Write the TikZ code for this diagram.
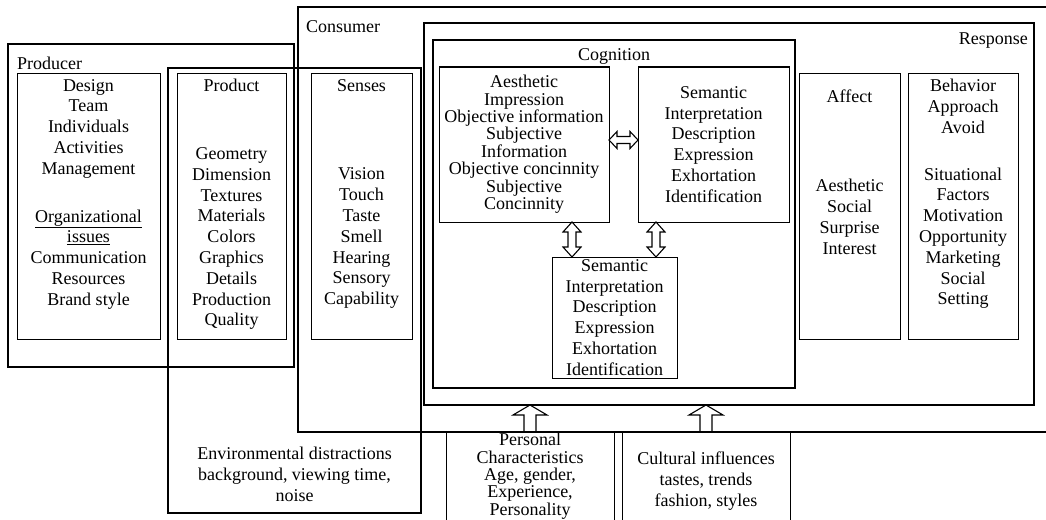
\documentclass[tikz,border=0pt]{standalone}
\usepackage{fontspec}
\setmainfont{Liberation Serif}
\usetikzlibrary{positioning,calc}

\begin{document}
\begin{tikzpicture}[x=1pt,y=-1pt,
  bigbox/.style={draw, line width=2pt, inner sep=0pt, outer sep=0pt},
  midbox/.style={draw, line width=1.3pt, inner sep=0pt, outer sep=0pt},
  box/.style={draw, line width=1pt, inner sep=0pt, outer sep=0pt},
  txt/.style={align=center, inner sep=0pt, font=\fontsize{18}{20.8}\selectfont},
  tighttxt/.style={txt, font=\fontsize{18}{17.4}\selectfont},
  arrowline/.style={line width=1.1pt, line join=miter},
  % outlined arrow, heads at both ends: head length, head half width, shaft half width
  hollow/.style n args={3}{to path={
    ($(\tikztostart)!#1!(\tikztotarget)$) coordinate (h1)
    ($(\tikztotarget)!#1!(\tikztostart)$) coordinate (h2)
    (\tikztostart) -- ($(h1)!#2!90:(\tikztotarget)$) -- ($(h1)!#3!90:(\tikztotarget)$)
    -- ($(h2)!#3!-90:(\tikztostart)$) -- ($(h2)!#2!-90:(\tikztostart)$) -- (\tikztotarget)
    -- ($(h2)!#2!90:(\tikztostart)$) -- ($(h2)!#3!90:(\tikztostart)$)
    -- ($(h1)!#3!-90:(\tikztotarget)$) -- ($(h1)!#2!-90:(\tikztotarget)$) -- cycle}},
  % outlined arrow, head at the target only
  hollowup/.style n args={3}{to path={
    ($(\tikztotarget)!#1!(\tikztostart)$) coordinate (h2)
    ($(\tikztostart)!#3!90:(\tikztotarget)$)
    -- ($(h2)!#3!-90:(\tikztostart)$) -- ($(h2)!#2!-90:(\tikztostart)$) -- (\tikztotarget)
    -- ($(h2)!#2!90:(\tikztostart)$) -- ($(h2)!#3!90:(\tikztostart)$)
    -- ($(\tikztostart)!#3!-90:(\tikztotarget)$)}}
]
\path[use as bounding box, clip] (0,0) rectangle (1046,519);

% outer frames
\node[bigbox, minimum width=286, minimum height=323] (producer) at (151,205.5) {};
\node[bigbox, minimum width=762, minimum height=425] (consumer) at (679,219.5) {};
\node[midbox, minimum width=253, minimum height=445] (environ) at (294.5,290.5) {};
\node[bigbox, minimum width=610, minimum height=382] (response) at (729,214) {};
\node[bigbox, minimum width=362, minimum height=348] (cognition) at (614,214) {};

\node[txt, anchor=north west] at ([xshift=9pt,yshift=-13pt]producer.north west) {Producer};
\node[txt, anchor=north west] at ([xshift=8pt,yshift=-13pt]consumer.north west) {Consumer};
\node[txt, anchor=north east] at ([xshift=-6pt,yshift=-10pt]response.north east) {Response};
\node[txt, below=8pt of cognition.north] {Cognition};

% producer side
\node[box, minimum width=143, minimum height=266] (design) at (88.5,206) {};
\node[box, minimum width=109, minimum height=266] (product) at (231.5,206) {};
\node[box, minimum width=101, minimum height=266] (senses) at (361.5,206) {};

\node[txt, below=6pt of design.north] {Design\\Team\\Individuals\\Activities\\Management\\[27pt]
  \underline{Organizational}\\\underline{issues}\\Communication\\Resources\\Brand style};
\node[txt, below=6pt of product.north] {Product\\[47pt]Geometry\\Dimension\\Textures\\Materials\\Colors\\
  Graphics\\Details\\Production\\Quality};
\node[txt, below=6pt of senses.north] {Senses\\[68pt]Vision\\Touch\\Taste\\Smell\\Hearing\\Sensory\\Capability};

\node[txt, anchor=north] (envtxt) at (294.5,447) {Environmental distractions\\background, viewing time,\\noise};

% cognition
\node[box, minimum width=170, minimum height=155] (aesthetic) at (524,144.5) {};
\node[box, minimum width=151, minimum height=155] (semright) at (713.5,144.5) {};
\node[box, minimum width=125, minimum height=121] (sembottom) at (614.5,317.5) {};

\node[tighttxt, below=8pt of aesthetic.north] {Aesthetic\\Impression\\Objective information\\Subjective\\
  Information\\Objective concinnity\\Subjective\\Concinnity};
\node[txt] at (semright) {Semantic\\Interpretation\\Description\\Expression\\Exhortation\\Identification};
\node[txt] at (sembottom) {Semantic\\Interpretation\\Description\\Expression\\Exhortation\\Identification};

\coordinate (leftx) at ([xshift=-42.5pt]sembottom.north);
\coordinate (rightx) at ([xshift=41.5pt]sembottom.north);
\draw[arrowline] ([yshift=4.5pt]aesthetic.east) to[hollow={8pt}{8.5pt}{3.5pt}] ([yshift=4.5pt]semright.west);
\draw[arrowline] (aesthetic.south -| leftx) to[hollow={10pt}{9pt}{4pt}] (leftx);
\draw[arrowline] (semright.south -| rightx) to[hollow={10pt}{9pt}{4pt}] (rightx);

% affect and behavior
\node[box, minimum width=101, minimum height=266] (affect) at (849.5,206) {};
\node[box, minimum width=110, minimum height=266] (behavior) at (963,206) {};

\node[txt, below=17pt of affect.north] {Affect\\[68pt]Aesthetic\\Social\\Surprise\\Interest};
\node[txt, below=6pt of behavior.north] {Behavior\\Approach\\Avoid\\[26pt]Situational\\Factors\\Motivation\\
  Opportunity\\Marketing\\Social\\Setting};

% influences from below
\node[box, minimum width=168, minimum height=99] (personal) at (530,480.5) {};
\node[box, minimum width=168, minimum height=99] (cultural) at (706,480.5) {};

\node[tighttxt, below=2pt of personal.north] {Personal\\Characteristics\\Age, gender,\\Experience,\\Personality};
\node[txt, below=21pt of cultural.north] {Cultural influences\\tastes, trends\\fashion, styles};

\draw[arrowline] (personal.north) to[hollowup={10pt}{17pt}{6pt}] (personal.north |- response.south);
\draw[arrowline] (cultural.north) to[hollowup={10pt}{17pt}{6pt}] (cultural.north |- response.south);
\end{tikzpicture}
\end{document}
